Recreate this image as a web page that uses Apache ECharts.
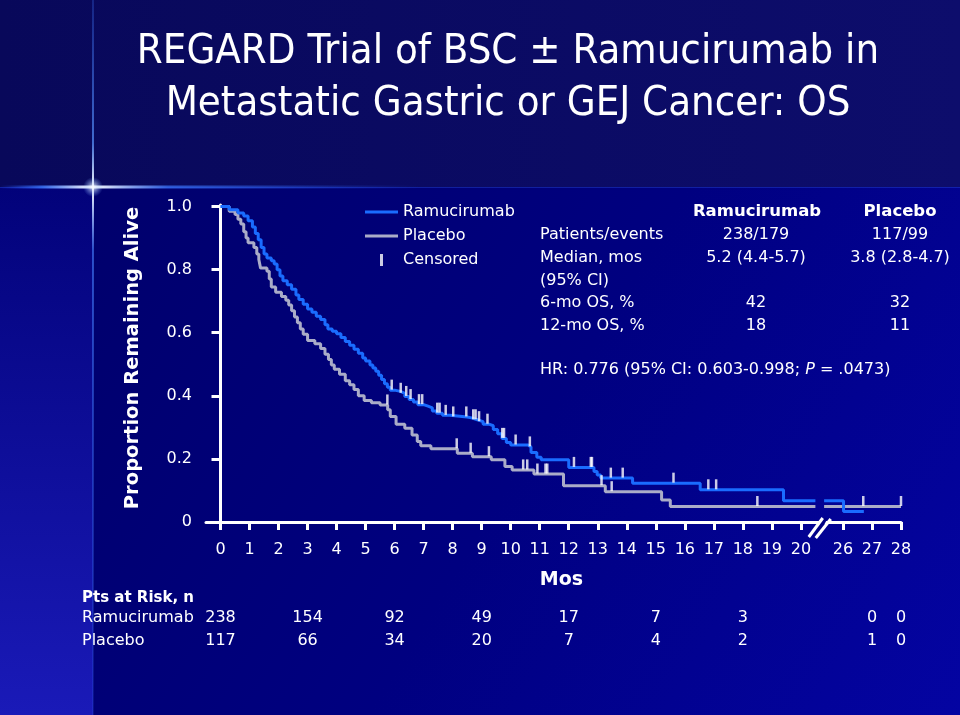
<!DOCTYPE html>
<html>
<head>
<meta charset="utf-8">
<script src="https://cdn.jsdelivr.net/npm/echarts@6.0.0/dist/echarts.min.js"></script>
<style>
  html, body { margin: 0; padding: 0; background: #000070; }
  #chart { width: 960px; height: 715px; }
</style>
</head>
<body>
<div id="chart"></div>
<script>
// ---------------- DATA ----------------
// Kaplan-Meier step points [month, proportion alive]
const RAM_CURVE = [
  [0,1.0],[0.3,0.99],[0.6,0.98],[0.8,0.97],[0.95,0.955],[1.1,0.935],[1.2,0.915],[1.3,0.895],
  [1.4,0.87],[1.5,0.85],[1.6,0.837],[1.75,0.828],[1.85,0.818],[1.95,0.80],[2.05,0.78],[2.15,0.765],
  [2.3,0.752],[2.45,0.738],[2.6,0.72],[2.7,0.705],[2.85,0.69],[3.0,0.675],[3.15,0.665],[3.3,0.652],
  [3.45,0.642],[3.6,0.625],[3.7,0.612],[3.85,0.605],[4.0,0.597],[4.15,0.585],[4.3,0.572],[4.45,0.56],
  [4.6,0.548],[4.75,0.535],[4.9,0.52],[5.0,0.51],[5.15,0.498],[5.25,0.488],[5.35,0.478],[5.45,0.465],
  [5.55,0.452],[5.65,0.438],[5.75,0.427],[5.85,0.418],[6.0,0.414],[6.2,0.408],[6.35,0.398],[6.5,0.388],
  [6.65,0.38],[6.8,0.372],[7.0,0.367],[7.15,0.362],[7.3,0.352],[7.45,0.345],[7.65,0.338],[7.9,0.333],
  [8.5,0.33],[8.65,0.324],[8.85,0.318],[9.05,0.31],[9.25,0.305],[9.4,0.293],[9.55,0.28],[9.7,0.265],
  [9.85,0.252],[10.0,0.244],[10.6,0.238],[10.7,0.22],[10.9,0.205],[11.05,0.197],[12.0,0.173],
  [12.87,0.16],[12.98,0.149],[13.1,0.139],[14.2,0.123],[16.53,0.102],[19.4,0.067],[26.02,0.033],[26.72,0.033]
];
const PBO_CURVE = [
  [0,1.0],[0.3,0.985],[0.5,0.975],[0.6,0.96],[0.7,0.945],[0.8,0.92],[0.88,0.9],[0.95,0.885],
  [1.15,0.87],[1.25,0.85],[1.32,0.832],[1.38,0.805],[1.6,0.795],[1.68,0.77],[1.75,0.745],[1.9,0.728],
  [2.1,0.715],[2.25,0.703],[2.35,0.688],[2.45,0.67],[2.55,0.65],[2.65,0.632],[2.75,0.612],[2.85,0.595],
  [3.0,0.575],[3.25,0.565],[3.45,0.55],[3.6,0.532],[3.72,0.515],[3.82,0.498],[3.92,0.484],[4.1,0.468],
  [4.3,0.448],[4.45,0.435],[4.6,0.42],[4.75,0.4],[4.95,0.385],[5.2,0.378],[5.5,0.371],[5.76,0.356],
  [5.85,0.334],[6.05,0.31],[6.35,0.297],[6.6,0.276],[6.78,0.255],[6.9,0.242],[7.25,0.232],[8.16,0.218],
  [8.68,0.207],[9.33,0.197],[9.8,0.176],[10.05,0.165],[10.8,0.152],[11.82,0.115],[13.26,0.096],
  [15.2,0.07],[15.5,0.049],[28,0.049]
];
// censoring times (months)
const RAM_CENSORED = [5.9,6.21,6.4,6.55,6.84,6.95,7.47,7.55,7.76,8.02,8.47,8.71,8.79,8.91,9.2,9.71,9.77,
  10.17,10.66,12.18,12.76,12.8,13.45,13.86,15.61,16.81,17.08];
const PBO_CENSORED = [5.75,8.14,8.62,9.25,10.43,10.57,10.92,11.2,11.26,13.13,13.48,18.5,26.7,28];

// axis ticks
const X_TICKS = [0,1,2,3,4,5,6,7,8,9,10,11,12,13,14,15,16,17,18,19,20,26,27,28];
const Y_TICKS = [0,0.2,0.4,0.6,0.8,1.0];

// numbers at risk
const RISK_MONTHS = [0,3,6,9,12,15,18,27,28];
const RISK_RAM = [238,154,92,49,17,7,3,0,0];
const RISK_PBO = [117,66,34,20,7,4,2,1,0];

// summary table
const TABLE_ROWS = ['Patients/events','Median, mos','(95% CI)','6-mo OS, %','12-mo OS, %'];
const TABLE_RAM = ['238/179','5.2 (4.4-5.7)','','42','18'];
const TABLE_PBO = ['117/99','3.8 (2.8-4.7)','','32','11'];

// ---------------- BROKEN AXIS (20 -> 26) ----------------
const BREAK_FROM = 20, BREAK_TO = 26, BREAK_SPAN = 1.45;
const GAP_A = 20.5, GAP_B = 20.8;     // line interruption inside break
function mapX(m) {
  if (m <= BREAK_FROM) return m;
  if (m >= BREAK_TO) return BREAK_FROM + BREAK_SPAN + (m - BREAK_TO);
  return BREAK_FROM + (m - BREAK_FROM) / (BREAK_TO - BREAK_FROM) * BREAK_SPAN;
}
const X_MIN = -0.5, X_MAX = mapX(28), Y_MIN = -0.016, Y_MAX = 1.005;
const X_TICK_POS = X_TICKS.map(mapX);

function stepData(curve) {
  const out = [];
  for (let i = 0; i < curve.length; i++) {
    const x = mapX(curve[i][0]), y = curve[i][1];
    if (i > 0) {
      const px = mapX(curve[i - 1][0]), py = curve[i - 1][1];
      if (px < GAP_A && x > GAP_B) {
        out.push([GAP_A, py]); out.push(null); out.push([GAP_B, py]);
      }
    }
    out.push([x, y]);
  }
  return out;
}
function survAt(curve, t) {
  let s = curve[0][1];
  for (const p of curve) { if (p[0] <= t) s = p[1]; else break; }
  return s;
}
const censorData = (curve, times) => times.map(t => [mapX(t), survAt(curve, t)]);

const BLUE = '#1a6cff', GRAY = '#aaacc8';
const FONT = '"DejaVu Sans", Verdana, sans-serif';
const LINE_ICON = 'path://M0,0 L33,0 L33,3 L0,3 Z';

// ---------------- BACKGROUND ----------------
const lg = (x, y, x2, y2, stops) => ({ type: 'linear', x, y, x2, y2, colorStops: stops.map(s => ({ offset: s[0], color: s[1] })) });
const bg = [
  { id: 'bgTop', type: 'rect', z: -100, shape: { x: 0, y: 0, width: 960, height: 187 },
    style: { fill: lg(0, 0, 1, 0, [[0, '#08085a'], [1, '#0d0d6c']]) } },
  { id: 'bgMain', type: 'rect', z: -100, shape: { x: 93, y: 187, width: 867, height: 528 },
    style: { fill: lg(0, 0, 1, 1, [[0, '#00006c'], [0.5, '#000080'], [1, '#0404a2']]) } },
  { id: 'bgLeft', type: 'rect', z: -100, shape: { x: 0, y: 187, width: 93, height: 528 },
    style: { fill: lg(0, 0, 0, 1, [[0, '#02027a'], [1, '#1a1ab8']]) } },
  { id: 'flareLine', type: 'rect', z: -99, shape: { x: 0, y: 187, width: 960, height: 1 },
    style: { fill: 'rgba(50,90,230,0.35)' } },
  { id: 'flareH', type: 'rect', z: -98, shape: { x: 0, y: 185.5, width: 420, height: 3 },
    style: { fill: lg(0, 0, 1, 0, [[0, 'rgba(40,90,255,0)'], [0.1, 'rgba(60,120,255,0.8)'], [0.22, '#ffffff'], [0.4, 'rgba(60,120,255,0.7)'], [1, 'rgba(40,90,255,0)']]) } },
  { id: 'flareV', type: 'rect', z: -98, shape: { x: 92, y: 0, width: 2, height: 715 },
    style: { fill: lg(0, 0, 0, 1, [[0, 'rgba(60,120,255,0.25)'], [0.2, 'rgba(90,150,255,0.7)'], [0.262, '#ffffff'], [0.35, 'rgba(70,130,255,0.6)'], [1, 'rgba(60,120,255,0.15)']]) } },
  { id: 'flareGlow', type: 'circle', z: -97, shape: { cx: 93, cy: 187, r: 10 },
    style: { fill: { type: 'radial', x: 0.5, y: 0.5, r: 0.5, colorStops: [{ offset: 0, color: 'rgba(255,255,255,0.9)' }, { offset: 1, color: 'rgba(120,170,255,0)' }] } } }
];

// ---------------- TEXT ----------------
const txt = (id, text, x, y, opt) => Object.assign({ id, type: 'text', z: 10, style: Object.assign({
  text, x, y, fill: '#ffffff', fontSize: 16, fontFamily: FONT, align: 'left', verticalAlign: 'middle' }, opt || {}) });
const TITLE_FONT = '"DejaVu Sans Condensed", "Liberation Sans", sans-serif';

const texts = [
  txt('t1', 'REGARD Trial of BSC \u00b1 Ramucirumab in', 508, 52, { fontSize: 41.5, fontFamily: TITLE_FONT, align: 'center' }),
  txt('t2', 'Metastatic Gastric or GEJ Cancer: OS', 508, 104, { fontSize: 41.5, fontFamily: TITLE_FONT, align: 'center' }),
  txt('hRam', 'Ramucirumab', 757, 212, { fontWeight: 'bold', fontSize: 16.5, align: 'center' }),
  txt('hPbo', 'Placebo', 900, 212, { fontWeight: 'bold', fontSize: 16.5, align: 'center' }),
  txt('hr', 'HR: 0.776 (95% CI: 0.603-0.998; {i|P} = .0473)', 540, 370, {
    rich: { i: { fontStyle: 'italic', fontSize: 16, fontFamily: FONT, fill: '#ffffff' } } }),
  txt('riskHead', 'Pts at Risk, n', 82, 598, { fontWeight: 'bold', fontSize: 15 }),
  txt('riskRam', 'Ramucirumab', 82, 618),
  txt('riskPbo', 'Placebo', 82, 641)
];
const ROW_Y = [235, 258, 281, 303, 326];
TABLE_ROWS.forEach((r, i) => {
  texts.push(txt('row' + i, r, 540, ROW_Y[i]));
  if (TABLE_RAM[i]) texts.push(txt('ram' + i, TABLE_RAM[i], 756, ROW_Y[i], { align: 'center' }));
  if (TABLE_PBO[i]) texts.push(txt('pbo' + i, TABLE_PBO[i], 900, ROW_Y[i], { align: 'center' }));
});

// ---------------- CHART ----------------
const chart = echarts.init(document.getElementById('chart'));
const censorStyle = {
  type: 'scatter', name: 'Censored', symbol: 'rect', symbolSize: [2.5, 10], symbolOffset: [0, -5.5],
  itemStyle: { color: '#ffffff' }, z: 4, silent: true
};
chart.setOption({
  backgroundColor: '#000070',
  animation: false,
  grid: { left: 206, right: 59, top: 205, bottom: 188, containLabel: false },
  legend: {
    left: 365, top: 204, orient: 'vertical', padding: 0, itemWidth: 33, itemHeight: 12, itemGap: 8,
    selectedMode: false,
    textStyle: { color: '#ffffff', fontSize: 16, fontFamily: FONT, lineHeight: 16 },
    data: [
      { name: 'Ramucirumab', icon: LINE_ICON },
      { name: 'Placebo', icon: LINE_ICON },
      { name: 'Censored', icon: 'path://M0,0 L3,0 L3,12 L0,12 Z' }
    ]
  },
  xAxis: {
    type: 'value', min: X_MIN, max: X_MAX,
    name: 'Mos', nameLocation: 'middle', nameGap: 44,
    nameTextStyle: { color: '#ffffff', fontSize: 19, fontWeight: 'bold', fontFamily: FONT, padding: [0, 0, 0, 16] },
    axisLine: { lineStyle: { color: '#ffffff', width: 3 } },
    axisTick: { show: true, customValues: X_TICK_POS, length: 8, lineStyle: { color: '#ffffff', width: 3 } },
    axisLabel: {
      customValues: X_TICK_POS, color: '#ffffff', fontSize: 16, fontFamily: FONT, margin: 15,
      formatter: v => { const i = X_TICK_POS.findIndex(t => Math.abs(t - v) < 1e-6); return i >= 0 ? String(X_TICKS[i]) : ''; }
    },
    splitLine: { show: false }
  },
  yAxis: {
    type: 'value', min: Y_MIN, max: Y_MAX,
    name: 'Proportion Remaining Alive', nameLocation: 'middle', nameGap: 63,
    nameTextStyle: { color: '#ffffff', fontSize: 19.5, fontWeight: 'bold', fontFamily: FONT, padding: [0, 0, 0, 16] },
    axisLine: { show: true, lineStyle: { color: '#ffffff', width: 3 } },
    axisTick: { show: true, customValues: Y_TICKS, length: 9, lineStyle: { color: '#ffffff', width: 3 } },
    axisLabel: {
      customValues: Y_TICKS, color: '#ffffff', fontSize: 16, fontFamily: FONT, margin: 14,
      formatter: v => (Math.abs(v) < 1e-9 ? '0' : v.toFixed(1))
    },
    splitLine: { show: false }
  },
  series: [
    { type: 'line', name: 'Ramucirumab', step: 'end', showSymbol: false, symbol: 'none',
      data: stepData(RAM_CURVE), lineStyle: { color: BLUE, width: 3 }, itemStyle: { color: BLUE }, z: 3 },
    { type: 'line', name: 'Placebo', step: 'end', showSymbol: false, symbol: 'none',
      data: stepData(PBO_CURVE), lineStyle: { color: GRAY, width: 3 }, itemStyle: { color: GRAY }, z: 2 },
    Object.assign({}, censorStyle, { data: censorData(RAM_CURVE, RAM_CENSORED) }),
    Object.assign({}, censorStyle, { data: censorData(PBO_CURVE, PBO_CENSORED) }),
    { type: 'custom', name: 'axisBreak', silent: true, clip: false, z: 6,
      data: [[(GAP_A + GAP_B) / 2, Y_MIN]],
      renderItem: (params, api) => {
        const p = api.coord([api.value(0), api.value(1)]);
        return { type: 'group', children: [
          { type: 'polygon', shape: { points: [[p[0] - 7, p[1] + 10], [p[0] - 2, p[1] + 10], [p[0] + 8, p[1] - 9], [p[0] + 3, p[1] - 9]] }, style: { fill: '#000084' } },
          { type: 'line', shape: { x1: p[0] - 11, y1: p[1] + 10, x2: p[0] + 3, y2: p[1] - 9 }, style: { stroke: '#ffffff', lineWidth: 3 } },
          { type: 'line', shape: { x1: p[0] - 4, y1: p[1] + 11, x2: p[0] + 11, y2: p[1] - 8 }, style: { stroke: '#ffffff', lineWidth: 3 } }
        ] };
      }
    }
  ],
  graphic: { elements: bg.concat(texts) }
});

// numbers at risk positioned through the x axis scale
const riskEls = [];
RISK_MONTHS.forEach((m, i) => {
  const x = chart.convertToPixel({ xAxisIndex: 0 }, mapX(m));
  riskEls.push(txt('rr' + i, String(RISK_RAM[i]), x, 618, { align: 'center' }));
  riskEls.push(txt('rp' + i, String(RISK_PBO[i]), x, 641, { align: 'center' }));
});
chart.setOption({ graphic: { elements: riskEls } });
</script>
</body>
</html>
